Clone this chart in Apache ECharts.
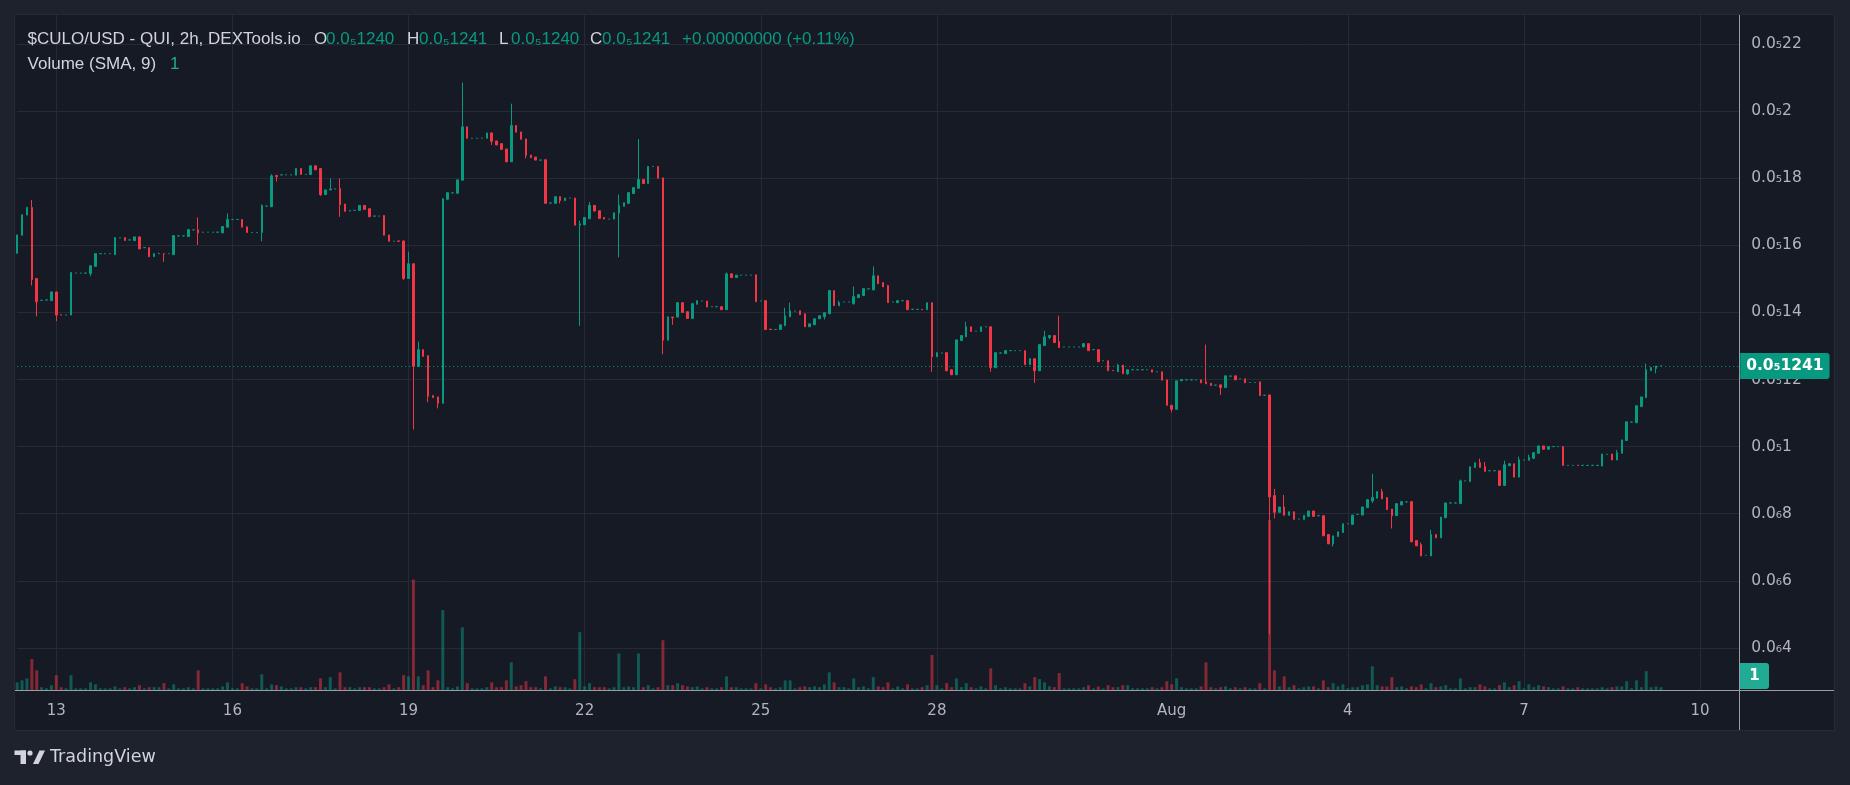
<!DOCTYPE html>
<html><head><meta charset="utf-8">
<script src="https://cdn.jsdelivr.net/npm/echarts@6/dist/echarts.min.js"></script>
<style>
html,body{margin:0;padding:0;background:#1e222d;overflow:hidden;}
#panel{position:absolute;left:14px;top:14px;width:1819px;height:715px;background:#161a25;border:1px solid #262a35;}
#c{position:absolute;left:0;top:0;width:1850px;height:785px;}
</style>
</head><body><div id="panel"></div><div id="c"></div>
<script>
// ---------------- DATA (prices in units of 1e-6 USD) ----------------
const startTimeUTC = Date.UTC(2024, 6, 12, 8, 0);   // first 2h candle
const categoryCount = 353;                            // 2h slots shown on the time axis
const tickTimes  = ['07-13 00:00','07-16 00:00','07-19 00:00','07-22 00:00','07-25 00:00','07-28 00:00','08-01 00:00','08-04 00:00','08-07 00:00','08-10 00:00'];
const tickLabels = ['13','16','19','22','25','28','Aug','4','7','10'];
const priceMin = 0.2, priceMax = 2.2864, priceStep = 0.2;

// [open, close] or [open, close, low, high] or [flat price]
const candles = [
[1.576,1.631],[1.630,1.691],[1.690,1.713,1.690,1.715],[1.713,1.498,1.480,1.735],[1.501,1.432,1.388,1.501],[1.436],[1.437],[1.435,1.461],[1.461,1.392,1.374,1.461],[1.393,1.392],
[1.392],[1.392,1.519],[1.517],[1.517],[1.517],[1.516,1.539,1.508,1.539],[1.537,1.575],[1.575],[1.575],[1.575],
[1.572,1.623],[1.622],[1.623,1.614],[1.616],[1.614,1.625],[1.625,1.589],[1.593],[1.593,1.566],[1.566,1.575],[1.575,1.575,1.575,1.578],
[1.575,1.574,1.551,1.575],[1.575],[1.572,1.629],[1.628],[1.628],[1.626,1.647],[1.646],[1.646,1.637,1.601,1.683],[1.639],[1.639],
[1.639],[1.639],[1.637,1.656],[1.654,1.677,1.654,1.695],[1.677],[1.677],[1.677,1.654],[1.655,1.638],[1.638],[1.638],
[1.638,1.719,1.612,1.722],[1.717],[1.715,1.807,1.715,1.812],[1.808,1.805,1.790,1.810],[1.810],[1.810],[1.810],[1.809,1.829],[1.829,1.811],[1.811],
[1.811,1.837],[1.837,1.825],[1.829,1.751,1.747,1.829],[1.751,1.765],[1.765,1.768,1.765,1.799],[1.768],[1.769,1.721,1.685,1.799],[1.723,1.701],[1.702,1.704],[1.704],
[1.704,1.719],[1.719,1.707],[1.709,1.685],[1.687],[1.687],[1.689,1.630],[1.631,1.612],[1.612],[1.613,1.612],[1.613,1.501,1.497,1.613],
[1.501,1.545,1.501,1.581],[1.545,1.239,1.051,1.545],[1.239,1.289,1.239,1.313],[1.289,1.269],[1.271,1.150,1.132,1.271],[1.152,1.146],[1.148,1.129,1.114,1.148],[1.129,1.739],[1.737,1.757],[1.756],
[1.755,1.795],[1.794,1.953,1.794,2.085],[1.953,1.919],[1.919],[1.919],[1.919],[1.919,1.935],[1.935,1.910,1.899,1.935],[1.911,1.899],[1.903,1.886],
[1.887,1.849,1.847,1.887],[1.849,1.957,1.849,2.022],[1.957,1.937],[1.938,1.916],[1.917,1.868,1.859,1.917],[1.869,1.861],[1.863,1.854],[1.854],[1.855,1.725],[1.726],
[1.725,1.745],[1.745,1.733,1.725,1.745],[1.733,1.741],[1.741],[1.741,1.660],[1.660,1.664,1.360,1.673],[1.661,1.683],[1.679,1.719,1.679,1.729],[1.719,1.702],[1.703,1.680],
[1.683,1.678],[1.678],[1.678,1.697],[1.696,1.719,1.564,1.751],[1.716,1.727],[1.725,1.757],[1.754,1.772],[1.770,1.796,1.770,1.917],[1.796,1.784],[1.784,1.835],
[1.835],[1.835,1.800],[1.801,1.317,1.275,1.801],[1.317,1.387],[1.386,1.384,1.363,1.386],[1.386,1.429],[1.429,1.400],[1.402,1.382],[1.382,1.426],[1.424,1.435],
[1.434],[1.434,1.416],[1.417],[1.417],[1.417,1.408],[1.408,1.515,1.408,1.519],[1.515,1.504],[1.504,1.511],[1.511],[1.511],
[1.511],[1.512,1.432],[1.434],[1.435,1.349],[1.350,1.349],[1.349],[1.349,1.363],[1.360,1.390,1.360,1.414],[1.387,1.405,1.387,1.429],[1.404],
[1.405,1.393],[1.396,1.357],[1.357,1.366],[1.363,1.381],[1.381,1.390],[1.387,1.399,1.379,1.399],[1.396,1.465,1.396,1.467],[1.465,1.420],[1.420,1.429,1.420,1.435],[1.431],
[1.431],[1.426,1.447,1.423,1.477],[1.444,1.453],[1.450,1.471],[1.470],[1.467,1.509,1.467,1.537],[1.509,1.485],[1.489,1.476],[1.480,1.429,1.429,1.482],[1.431],
[1.429,1.435],[1.435],[1.435,1.408],[1.409],[1.409],[1.409,1.408],[1.408,1.429],[1.429,1.268,1.223,1.429],[1.268,1.280],[1.279],
[1.280,1.226],[1.229,1.214],[1.214,1.318],[1.316,1.331],[1.327,1.357,1.327,1.372],[1.357,1.343],[1.344],[1.343,1.357],[1.357],[1.357,1.235,1.223,1.357],
[1.235,1.280],[1.279],[1.277,1.286],[1.286],[1.286],[1.286],[1.286,1.244],[1.244,1.262],[1.262,1.226,1.190,1.262],[1.226,1.304],
[1.301,1.327,1.301,1.345],[1.325,1.331,1.320,1.331],[1.331,1.310],[1.313,1.295,1.295,1.390],[1.297],[1.297],[1.297],[1.297],[1.297,1.307],[1.307,1.286],
[1.289],[1.289,1.253],[1.256],[1.256,1.226],[1.227,1.226],[1.223,1.243,1.223,1.247],[1.243,1.217],[1.217,1.229,1.214,1.229],[1.229],[1.229],
[1.229],[1.229],[1.229,1.222],[1.223],[1.223,1.198],[1.199,1.123],[1.123,1.111,1.102,1.123],[1.111,1.196],[1.196,1.200],[1.199],
[1.199],[1.199],[1.199,1.190],[1.193,1.187,1.187,1.304],[1.189,1.182],[1.183],[1.184,1.176,1.154,1.184],[1.176,1.211],[1.210],[1.211,1.199],
[1.202],[1.202,1.190],[1.191],[1.191],[1.193,1.152],[1.153],[1.154,0.850,0.441,1.154],[0.854,0.804,0.786,0.874],[0.804,0.820],[0.820,0.795,0.795,0.856],
[0.795,0.806],[0.806,0.783],[0.784],[0.783,0.795],[0.792,0.808],[0.808,0.792],[0.794],[0.794,0.734],[0.738,0.710],[0.710,0.734,0.702,0.734],
[0.732,0.746],[0.744,0.770],[0.770],[0.768,0.796],[0.798],[0.796,0.820],[0.818,0.842],[0.838,0.848,0.832,0.919],[0.846,0.866],[0.866,0.844,0.844,0.874],
[0.848,0.812],[0.814,0.794,0.756,0.814],[0.794,0.830],[0.826,0.836],[0.835],[0.836,0.716],[0.720,0.704],[0.708,0.674,0.674,0.714],[0.676],[0.674,0.738,0.674,0.752],
[0.738,0.728],[0.728,0.790],[0.788,0.832],[0.832],[0.832],[0.830,0.898,0.830,0.902],[0.898],[0.896,0.940],[0.938,0.952,0.936,0.952],[0.952,0.938,0.938,0.964],
[0.940,0.926,0.926,0.954],[0.928],[0.928],[0.928,0.884],[0.884,0.946,0.884,0.958],[0.943,0.949],[0.949,0.909],[0.909,0.961,0.909,0.970],[0.960],[0.959,0.968,0.959,0.976],
[0.965,0.982],[0.980,1.002],[1.002,0.992],[0.992,1.000],[1.000],[1.000],[1.000,0.944],[0.944],[0.944],[0.945,0.944],
[0.944],[0.944],[0.944],[0.944],[0.942,0.978],[0.977],[0.978,0.960],[0.960,0.982,0.960,0.990],[0.980,1.020],[1.018,1.074],
[1.073],[1.071,1.122],[1.119,1.148],[1.146,1.229,1.146,1.247],[1.226,1.236],[1.233,1.240,1.218,1.240],[1.240,1.241,1.240,1.241]
];

// volume (relative units)
const volumes = [
19,24,29,77,49,7,4,12,37,7, 4,37,4,4,4,19,14,4,4,4, 9,4,7,4,7,12,4,7,7,7, 17,4,14,4,4,7,4,49,4,4,
4,4,9,19,4,4,17,9,4,4, 39,4,14,12,9,4,4,7,7,4, 7,7,29,7,32,4,44,7,7,4, 7,7,7,4,4,7,14,4,7,37,
34,275,34,12,49,7,24,199,7,4, 9,156,17,4,4,4,7,19,7,7, 24,69,9,12,22,7,7,4,34,4, 9,7,7,4,27,144,9,17,7,7,
7,4,7,91,7,9,7,91,7,12, 4,7,124,12,12,17,12,9,7,9, 4,7,4,4,7,34,7,7,4,4, 4,17,4,14,7,4,7,24,24,4,
7,9,7,9,7,14,44,19,7,7, 4,29,7,9,4,32,9,7,19,4, 9,4,14,4,4,7,12,87,12,4, 17,7,29,7,17,7,4,9,4,54,
12,4,7,4,4,4,17,9,32,27, 19,9,7,42,4,4,4,4,7,12, 4,9,4,12,7,7,12,12,4,4, 4,4,7,4,7,22,14,29,7,4,
4,4,9,69,7,4,7,9,4,7, 4,7,4,4,17,4,423,49,9,34, 7,12,4,7,9,9,4,24,7,17, 9,14,4,7,7,12,14,59,12,9,
9,32,7,9,4,9,7,14,4,17, 7,9,12,4,4,29,4,7,7,14, 9,4,4,12,19,7,12,22,4,14, 7,12,9,7,4,4,9,4,4,7,
4,4,4,4,7,4,7,9,9,22, 4,24,7,47,7,9,7
];

const lastPrice = 1.241;
const symbolTitle = '$CULO/USD - QUI, 2h, DEXTools.io';
const legendLetters = ['O','H','L','C'];
const legendValues = ['0.0₅1240', '0.0₅1241', '0.0₅1240', '0.0₅1241'];
const changeText = '+0.00000000 (+0.11%)';
const volumeTitle = 'Volume (SMA, 9)';
const volumeSmaValue = '1';

// ---------------- helpers ----------------
const UP = '#089981', DOWN = '#f23645';
const FONT = 'DejaVu Sans';
const HFONT = 'Liberation Sans';
const SUB = '₀₁₂₃₄₅₆₇₈₉';
function fmtPrice(v) {
  const s = (v * 1e-6).toFixed(12).replace(/0+$/, '');
  const m = s.match(/^0\.(0+)(\d+)$/);
  if (!m) return s;
  const z = String(m[1].length).split('').map(d => SUB[+d]).join('');
  return '0.0' + z + m[2];
}
const pad = n => String(n).padStart(2, '0');
const categories = [];
for (let i = 0; i < categoryCount; i++) {
  const d = new Date(startTimeUTC + i * 7200000);
  categories.push(pad(d.getUTCMonth() + 1) + '-' + pad(d.getUTCDate()) + ' ' + pad(d.getUTCHours()) + ':00');
}
const tickMap = {}; tickTimes.forEach((t, i) => tickMap[t] = tickLabels[i]);
const isTick = (idx, val) => Object.prototype.hasOwnProperty.call(tickMap, val);

const ohlc = candles.map(r => r.length === 1 ? [r[0], r[0], r[0], r[0]]
  : r.length === 2 ? [r[0], r[1], Math.min(r[0], r[1]), Math.max(r[0], r[1])] : r);
const candleData = ohlc.map(v => {
  const c = v[1] >= v[0] ? UP : DOWN;
  return { value: v, itemStyle: { color: c, color0: c, borderColor: c, borderColor0: c, borderColorDoji: c } };
});
const volData = volumes.map((v, i) => ({
  value: v,
  itemStyle: { color: ohlc[i][1] >= ohlc[i][0] ? 'rgba(8,153,129,0.5)' : 'rgba(242,54,69,0.5)' }
}));

// ---------------- layout ----------------
const GL = 17.16, GRX = 1739.2, GR = 1850 - GRX;
const headerY1 = 39.5, headerY2 = 64.5;
const HSIZE = '17px ';
const legendX = [314, 407, 499, 590];

const graphics = [];
graphics.push({ type: 'text', x: 27.6, y: headerY1, style: { text: symbolTitle, fill: '#d1d4dc', font: HSIZE + HFONT, verticalAlign: 'middle' }, z: 10 });
legendLetters.forEach((L, i) => {
  graphics.push({ type: 'text', x: legendX[i], y: headerY1, style: { text: L, fill: '#d1d4dc', font: HSIZE + HFONT, verticalAlign: 'middle' }, z: 10 });
  graphics.push({ type: 'text', x: legendX[i] + 12, y: headerY1, style: { text: legendValues[i], fill: UP, font: HSIZE + HFONT, verticalAlign: 'middle' }, z: 10 });
});
graphics.push({ type: 'text', x: 682, y: headerY1, style: { text: changeText, fill: UP, font: HSIZE + HFONT, verticalAlign: 'middle' }, z: 10 });
graphics.push({ type: 'text', x: 27.6, y: headerY2, style: { text: volumeTitle, fill: '#d1d4dc', font: HSIZE + HFONT, verticalAlign: 'middle' }, z: 10 });
graphics.push({ type: 'text', x: 170, y: headerY2, style: { text: volumeSmaValue, fill: '#22ab94', font: HSIZE + HFONT, verticalAlign: 'middle' }, z: 10 });
// scale separators
graphics.push({ type: 'line', shape: { x1: 1739.5, y1: 15, x2: 1739.5, y2: 730 }, style: { stroke: '#9a9da6', lineWidth: 1 }, z: 5 });
graphics.push({ type: 'line', shape: { x1: 15, y1: 690.5, x2: 1834, y2: 690.5 }, style: { stroke: '#9a9da6', lineWidth: 1 }, z: 5 });
// volume last-value tag
graphics.push({ type: 'rect', shape: { x: 1740, y: 663, width: 29, height: 26, r: [0, 3, 3, 0] }, style: { fill: '#22ab94' }, z: 6 });
graphics.push({ type: 'text', x: 1754.5, y: 676.5, style: { text: volumeSmaValue, fill: '#ffffff', font: 'bold 15px ' + FONT, align: 'center', verticalAlign: 'middle' }, z: 7 });
// TradingView logo
graphics.push({ type: 'rect', shape: { x: 14.5, y: 750.5, width: 11.5, height: 4.5 }, style: { fill: '#d1d4dc' }, z: 10 });
graphics.push({ type: 'rect', shape: { x: 20.5, y: 750.5, width: 5.5, height: 13.5 }, style: { fill: '#d1d4dc' }, z: 10 });
graphics.push({ type: 'circle', shape: { cx: 30, cy: 753, r: 2.6 }, style: { fill: '#d1d4dc' }, z: 10 });
graphics.push({ type: 'polygon', shape: { points: [[33, 764], [38.5, 764], [45, 750.5], [39.5, 750.5]] }, style: { fill: '#d1d4dc' }, z: 10 });
graphics.push({ type: 'text', x: 50, y: 757.5, style: { text: 'TradingView', fill: '#d1d4dc', font: '17.5px ' + FONT, verticalAlign: 'middle' }, z: 10 });

const chart = echarts.init(document.getElementById('c'), null, { renderer: 'canvas' });
chart.setOption({
  animation: false,
  backgroundColor: 'transparent',
  textStyle: { fontFamily: FONT },
  grid: [
    { left: GL, right: GR, top: 15, bottom: 70 },
    { left: GL, right: GR, top: 15, bottom: 95 }
  ],
  xAxis: [
    { gridIndex: 0, type: 'category', data: categories, boundaryGap: false, show: false },
    { gridIndex: 1, type: 'category', data: categories, boundaryGap: false,
      axisLine: { show: false }, axisTick: { show: false },
      axisLabel: { interval: isTick, formatter: v => tickMap[v] || '', color: '#b2b5be', fontSize: 15, fontFamily: FONT, margin: 14 },
      splitLine: { show: true, interval: isTick, lineStyle: { color: '#262a35', width: 1 } } }
  ],
  yAxis: [
    { gridIndex: 0, type: 'value', position: 'right', min: priceMin, max: priceMax, interval: priceStep,
      axisLine: { show: false }, axisTick: { show: false },
      axisLabel: { color: '#b2b5be', fontSize: 15.5, fontFamily: FONT, margin: 12, showMinLabel: false, showMaxLabel: false, formatter: v => fmtPrice(v) },
      splitLine: { show: true, showMinLine: false, showMaxLine: false, lineStyle: { color: '#262a35', width: 1 } } },
    { gridIndex: 1, type: 'value', min: 0, max: 1680, show: false }
  ],
  series: [
    { type: 'bar', name: 'Volume', xAxisIndex: 1, yAxisIndex: 1, data: volData, barWidth: 3, silent: true },
    { type: 'candlestick', name: 'Price', xAxisIndex: 0, yAxisIndex: 0, data: candleData, barWidth: 2,
      itemStyle: { borderWidth: 1 }, silent: true,
      markLine: { silent: true, symbol: ['none', 'none'], animation: false,
        lineStyle: { type: [1, 3], color: UP, width: 1 },
        label: { show: true, position: 'end', distance: 1, formatter: () => fmtPrice(lastPrice),
          color: '#ffffff', fontWeight: 'bold', fontSize: 15.5, fontFamily: FONT,
          backgroundColor: UP, padding: [4, 6, 4, 6], lineHeight: 18, borderRadius: [0, 3, 3, 0] },
        data: [{ yAxis: lastPrice }] } }
  ],
  graphic: graphics
});
</script>
</body></html>
